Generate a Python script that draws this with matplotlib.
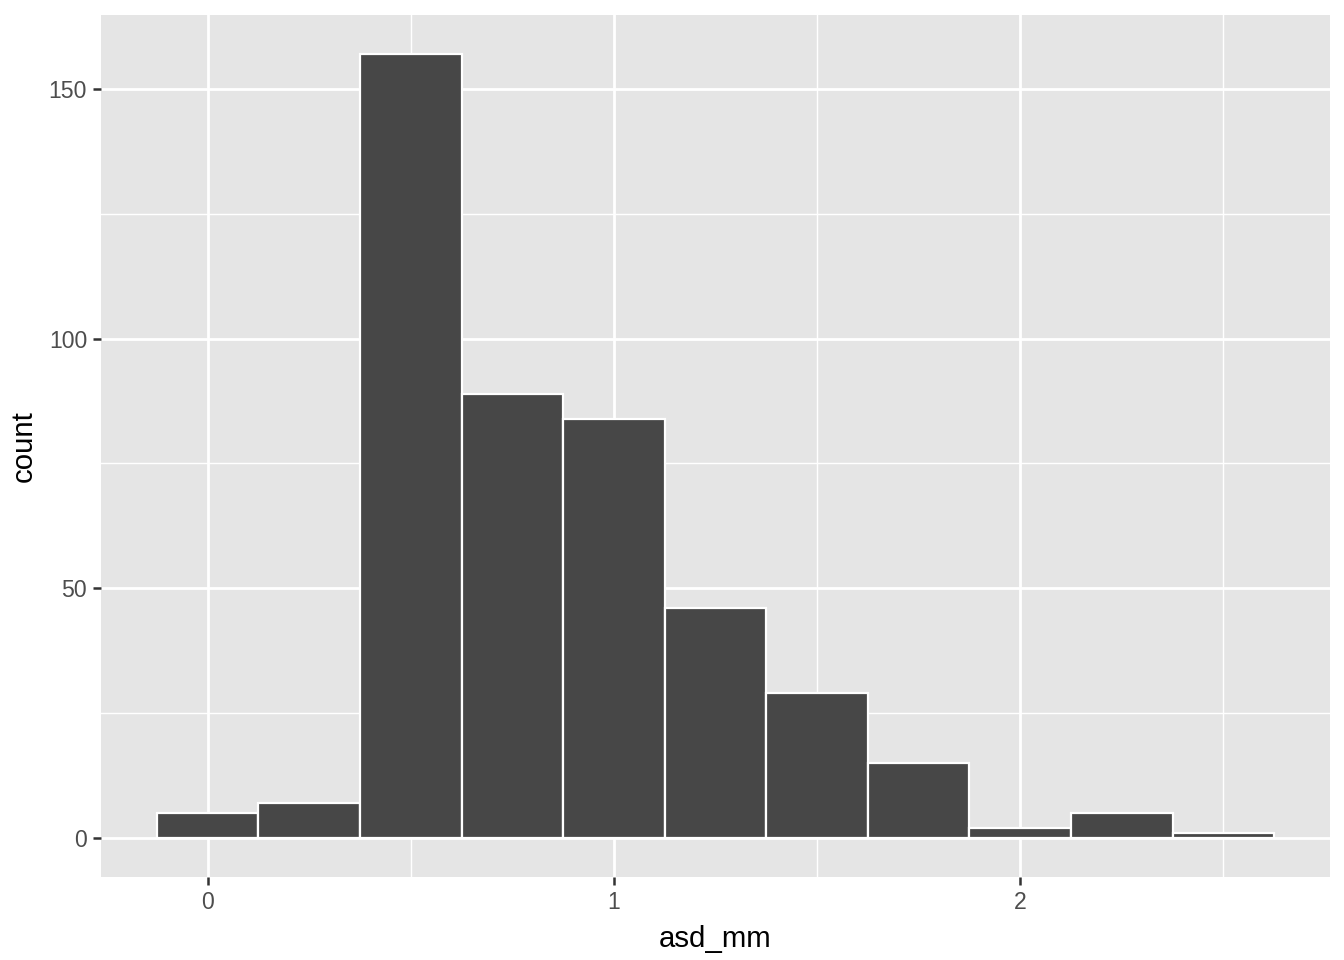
import numpy as np
import matplotlib.pyplot as plt

plt.rcParams['font.family'] = ['Liberation Sans', 'DejaVu Sans']

# histogram bins (width 0.25, centred on multiples of 0.25)
bin_centers = [0.0, 0.25, 0.5, 0.75, 1.0, 1.25, 1.5, 1.75, 2.0, 2.25, 2.5]
counts = [5, 7, 157, 89, 84, 46, 29, 15, 2, 5, 1]
bin_width = 0.25

fig = plt.figure(figsize=(6.72, 4.8), dpi=200)
ax = fig.add_axes([101/1344, 1 - 877/960, (1330 - 101)/1344, (877 - 15)/960])
ax.set_facecolor('#E5E5E5')

ax.bar(bin_centers, counts, width=bin_width, color='#474747',
       edgecolor='white', linewidth=0.8, zorder=3)

lo = bin_centers[0] - bin_width / 2
hi = bin_centers[-1] + bin_width / 2
ax.set_xlim(lo - 0.05 * (hi - lo), hi + 0.05 * (hi - lo))
ymax = max(counts)
ax.set_ylim(-0.05 * ymax, ymax * 1.05)

ax.set_xticks([0, 1, 2])
ax.set_yticks([0, 50, 100, 150])
ax.set_xticks([0.5, 1.5, 2.5], minor=True)
ax.set_yticks([25, 75, 125], minor=True)
ax.grid(which='major', color='white', linewidth=1.0, zorder=1)
ax.grid(which='minor', color='white', linewidth=0.5, zorder=1)
ax.set_axisbelow(True)

for s in ax.spines.values():
    s.set_visible(False)
ax.tick_params(which='major', length=3, width=0.9, color='#333333',
               labelsize=8.3, labelcolor='#4D4D4D', pad=2)
ax.tick_params(which='minor', length=0)

ax.set_xlabel('asd_mm', fontsize=10.6, labelpad=4)
ax.set_ylabel('count', fontsize=10.6, labelpad=4)

fig.savefig('out.png', dpi=200)
